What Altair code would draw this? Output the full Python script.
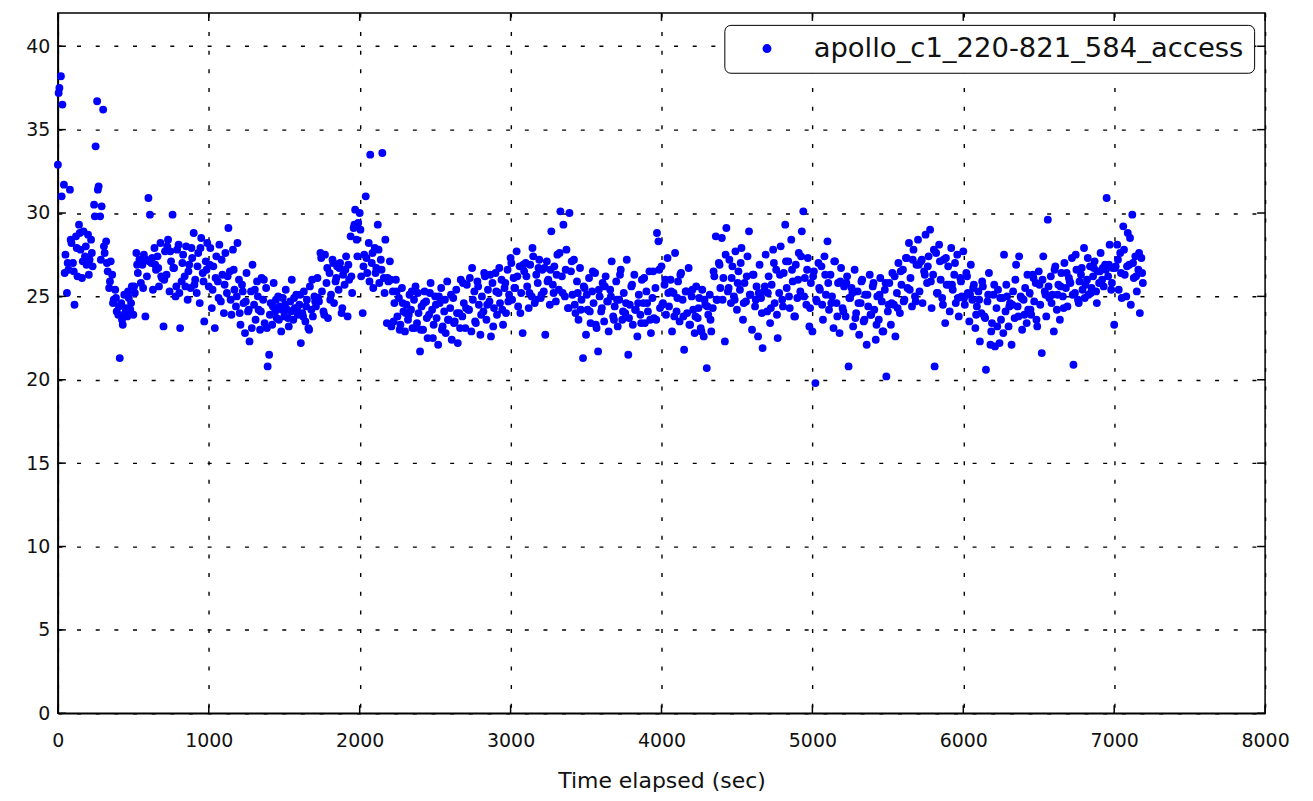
import altair as alt
import pandas as pd

series_name = "apollo_c1_220-821_584_access"
x_ticks = [0, 1000, 2000, 3000, 4000, 5000, 6000, 7000, 8000]
y_ticks = [0, 5, 10, 15, 20, 25, 30, 35, 40]
sample_interval_sec = 10
extra_offset_sec = 5
extra_interval_sec = 20

values_0000 = [
    32.9, 37.5, 38.2, 36.5, 31.7, 27.5, 25.2, 26.6, 31.4, 28.2,
    27.0, 24.5, 28.6, 26.2, 29.3, 27.8, 26.1, 28.9, 27.4, 26.9,
    28.7, 27.2, 28.4, 26.8, 30.5, 34.0, 36.7, 31.6, 29.8, 30.4,
    36.2, 27.6, 28.3, 26.5, 25.5, 27.1, 26.3, 24.8, 25.4, 24.1,
    23.9, 21.3, 24.6, 23.3, 25.1, 24.3, 23.8, 24.9, 24.2, 25.6,
    23.9, 25.2, 27.6, 26.4, 27.2, 25.8, 26.9, 27.5, 23.8, 26.2,
    30.9, 29.9, 27.0, 25.4, 27.9, 26.6, 27.4, 25.6, 28.2, 26.1,
    23.2, 27.7, 26.3, 28.4, 25.3, 27.1, 29.9, 26.7, 25.0, 27.8,
    28.1, 23.1, 25.9, 27.5, 26.2, 28.0, 24.8, 26.9, 25.5, 27.3,
    28.8, 26.0, 25.2, 27.6, 24.6, 28.5, 26.4, 23.5, 27.1, 28.2,
]
values_1000 = [
    25.6, 27.9, 24.3, 26.8, 23.1, 27.4, 25.9, 28.1, 24.7, 26.3,
    24.0, 27.6, 25.2, 29.1, 26.5, 23.9, 27.8, 25.4, 24.4, 28.2,
    26.0, 23.3, 25.7, 24.6, 22.8, 26.4, 24.1, 22.3, 25.3, 26.9,
    24.5, 23.6, 25.9, 24.2, 23.0, 26.1, 24.8, 23.4, 25.5, 20.8,
    21.5, 24.6, 23.3, 25.8, 24.1, 23.7, 25.0, 24.4, 22.9, 24.9,
    23.8, 25.4, 24.2, 23.2, 24.7, 26.0, 23.6, 24.3, 25.1, 23.9,
    24.5, 22.2, 24.0, 25.3, 23.5, 24.8, 23.1, 25.6, 24.2, 23.8,
    25.0, 24.4, 26.1, 24.7, 27.6, 25.3, 24.1, 27.5, 25.8, 23.7,
    26.4, 25.1, 27.2, 24.6, 25.9, 26.8, 25.4, 27.0, 24.0, 26.3,
    25.7, 27.4, 23.8, 26.0, 28.6, 25.2, 29.1, 30.2, 28.4, 29.4,
]
values_2000 = [
    30.0, 26.2, 24.0, 27.5, 31.0, 26.4, 28.2, 33.5, 27.0, 25.5,
    27.9, 26.7, 29.3, 25.8, 27.2, 33.6, 26.1, 28.4, 23.4, 25.9,
    27.1, 23.2, 25.3, 24.6, 26.0, 23.8, 24.9, 23.3, 25.5, 24.1,
    22.9, 24.5, 23.6, 25.1, 24.2, 23.1, 24.8, 25.6, 23.4, 24.0,
    21.7, 24.4, 23.0, 25.3, 24.7, 22.5, 23.9, 25.8, 24.2, 23.3,
    25.0, 23.7, 22.1, 24.6, 25.5, 23.2, 24.1, 22.8, 25.9, 23.6,
    24.3, 22.4, 24.9, 23.5, 25.4, 22.2, 24.0, 26.0, 23.8, 24.6,
    23.1, 25.7, 24.2, 26.1, 22.9, 24.8, 25.3, 23.4, 25.9, 24.5,
    22.7, 25.0, 24.1, 26.2, 23.6, 25.4, 24.7, 22.6, 25.8, 24.3,
    26.4, 23.9, 25.2, 24.6, 26.0, 23.3, 25.5, 24.0, 26.6, 25.1,
]
values_3000 = [
    27.3, 24.8, 26.1, 25.5, 27.7, 24.4, 26.8, 25.2, 22.8, 26.5,
    27.0, 25.6, 24.3, 26.9, 25.0, 27.4, 24.6, 26.3, 25.8, 27.2,
    24.9, 26.6, 25.3, 22.7, 27.1, 26.0, 24.5, 28.9, 25.7, 26.8,
    24.7, 27.5, 25.4, 30.1, 26.2, 29.3, 25.0, 27.8, 24.3, 30.0,
    26.5, 25.1, 27.2, 24.0, 25.9, 23.6, 26.7, 24.8, 21.3, 25.5,
    22.7, 24.2, 26.1, 23.4, 25.3, 24.6, 26.4, 23.1, 21.7, 25.0,
    24.1, 25.8, 23.5, 26.2, 24.7, 22.9, 25.4, 27.1, 23.8, 24.4,
    25.9, 23.2, 24.8, 26.6, 23.6, 25.2, 24.0, 27.2, 21.5, 24.5,
    25.6, 23.3, 26.3, 24.2, 22.6, 25.1, 23.9, 26.0, 24.6, 23.4,
    25.3, 24.1, 26.5, 22.8, 24.9, 23.7, 25.5, 28.8, 28.3, 24.3,
]
values_4000 = [
    26.8, 24.6, 25.7, 23.9, 27.3, 24.4, 26.0, 22.9, 25.2, 27.6,
    24.1, 25.9, 23.5, 26.4, 24.8, 21.8, 25.3, 24.0, 26.7, 23.3,
    25.0, 24.2, 22.8, 25.6, 23.7, 24.9, 23.1, 25.4, 22.6, 24.5,
    20.7, 23.9, 25.1, 22.9, 24.3, 26.2, 28.6, 24.8, 27.0, 25.5,
    28.5, 26.1, 22.3, 29.1, 25.3, 27.2, 24.6, 26.8, 25.0, 27.7,
    24.2, 26.5, 25.4, 27.9, 23.6, 25.8, 24.7, 27.4, 28.9, 25.1,
    23.0, 26.3, 24.4, 25.6, 22.6, 26.9, 24.9, 21.9, 25.3, 27.5,
    24.1, 26.2, 23.4, 25.7, 27.8, 24.6, 26.6, 22.5, 25.2, 28.0,
    24.8, 26.4, 29.3, 25.5, 27.1, 24.3, 28.4, 25.9, 23.8, 26.9,
    24.9, 27.6, 25.3, 28.9, 30.1, 26.1, 24.5, 27.3, 23.2, 25.8,
]
values_5000 = [
    22.9, 26.5, 19.8, 24.7, 27.0, 25.4, 26.8, 23.6, 27.4, 25.1,
    28.3, 24.2, 26.3, 25.0, 23.1, 27.1, 24.6, 25.8, 22.8, 26.7,
    24.3, 25.6, 23.8, 26.2, 20.8, 24.9, 25.5, 23.2, 26.6, 24.0,
    25.3, 22.7, 24.6, 26.0, 23.5, 25.1, 22.1, 24.4, 26.3, 23.9,
    25.6, 24.2, 22.4, 25.0, 23.6, 26.1, 24.7, 22.9, 25.4, 20.2,
    24.1, 25.8, 23.3, 26.4, 24.5, 22.6, 25.2, 27.0, 24.0, 25.7,
    26.6, 24.8, 27.3, 25.5, 28.2, 26.1, 24.4, 27.8, 25.0, 26.9,
    28.4, 25.3, 27.1, 24.6, 26.5, 28.7, 25.8, 27.4, 29.0, 24.3,
    26.3, 20.8, 27.6, 25.2, 28.1, 26.0, 24.9, 27.2, 23.4, 25.7,
    26.8, 24.1, 27.9, 25.4, 26.3, 24.6, 27.5, 23.8, 26.1, 25.0,
]
values_6000 = [
    27.7, 24.5, 26.4, 25.2, 23.5, 26.9, 24.8, 25.7, 23.1, 24.4,
    25.3, 22.3, 24.0, 25.6, 23.8, 20.6, 24.7, 26.4, 22.1, 23.4,
    25.1, 22.0, 24.3, 25.4, 22.2, 23.6, 24.9, 27.5, 24.1, 25.0,
    23.2, 24.6, 22.1, 25.3, 23.7, 26.9, 24.4, 27.4, 25.0, 23.0,
    24.8, 25.5, 23.4, 24.2, 25.2, 23.9, 26.3, 24.7, 25.8, 23.2,
    26.5, 24.5, 21.6, 27.4, 25.3, 23.8, 29.6, 24.9, 26.2, 25.1,
    22.9, 26.8, 24.2, 25.7, 23.6, 26.4, 25.0, 27.0, 25.5, 24.4,
    26.1, 25.8, 27.3, 20.9, 25.2, 26.6, 24.8, 25.9, 26.3, 25.4,
    27.9, 25.7, 26.0, 25.1, 26.8, 25.5, 26.2, 27.1, 25.3, 26.5,
    25.8, 27.6, 26.0, 25.6, 26.9, 30.9, 26.2, 28.1, 25.4, 26.7,
]
values_7000 = [
    23.3, 26.8, 28.1, 25.4, 27.6, 24.9, 29.2, 26.3, 25.0, 28.8,
    26.9, 24.5, 29.9, 26.1, 27.4, 25.3, 26.6, 24.0, 27.3, 25.8,
]

# second, interleaved set of samples (t = 5, 25, 45, ...)
extra_0000 = [
    37.2, 31.0, 26.4, 27.0, 28.4, 26.5, 27.9, 28.8, 27.1, 28.0,
    26.3, 27.6, 29.8, 31.4, 27.2, 28.0, 27.0, 25.9, 24.6, 24.9,
    24.4, 23.6, 24.0, 25.3, 24.6, 25.6, 26.9, 27.0, 25.5, 27.2,
    27.1, 27.3, 26.9, 26.7, 26.2, 26.0, 28.0, 27.7, 26.7, 25.6,
    25.2, 27.0, 25.6, 26.5, 27.9, 25.7, 26.8, 27.9, 25.9, 26.6,
]
extra_1000 = [
    26.9, 25.4, 26.1, 24.9, 27.2, 25.7, 26.2, 24.8, 26.6, 25.0,
    24.0, 25.3, 24.7, 24.2, 23.1, 25.4, 25.0, 24.1, 26.0, 23.1,
    23.9, 24.4, 24.8, 23.6, 24.2, 24.5, 23.7, 24.1, 24.9, 24.3,
    25.1, 23.8, 24.4, 23.0, 26.0, 24.7, 24.9, 27.3, 23.9, 26.7,
    24.8, 27.0, 26.1, 26.7, 24.3, 26.6, 26.9, 26.2, 29.3, 27.4,
]
extra_2000 = [
    29.0, 26.8, 27.3, 25.9, 27.6, 26.4, 27.8, 26.6, 25.2, 26.1,
    26.0, 23.5, 25.3, 23.0, 24.6, 24.0, 23.9, 25.3, 23.1, 25.2,
    23.0, 24.6, 23.7, 25.2, 22.5, 24.5, 25.0, 23.0, 24.8, 23.6,
    25.1, 23.4, 24.0, 23.1, 25.8, 24.3, 24.2, 26.7, 23.5, 25.6,
    23.9, 26.4, 24.5, 26.3, 23.2, 25.3, 26.7, 24.2, 25.8, 24.7,
]
extra_3000 = [
    27.0, 25.5, 26.2, 24.0, 26.9, 26.2, 25.2, 27.9, 24.8, 26.7,
    25.1, 26.7, 25.9, 26.6, 25.2, 26.3, 27.6, 25.2, 26.6, 24.3,
    27.1, 24.5, 25.2, 24.2, 25.6, 25.1, 24.1, 26.5, 23.3, 25.4,
    24.3, 25.6, 24.7, 25.0, 23.6, 24.8, 26.3, 24.1, 24.6, 23.7,
    25.7, 24.2, 24.6, 23.4, 26.1, 24.6, 23.6, 26.5, 23.6, 26.6,
]
extra_4000 = [
    24.5, 26.0, 25.2, 25.3, 23.8, 24.9, 26.3, 23.8, 25.3, 23.3,
    25.4, 23.8, 24.3, 22.9, 24.8, 24.4, 23.6, 26.5, 24.8, 26.9,
    24.8, 27.5, 25.5, 26.1, 24.8, 25.8, 27.0, 24.6, 26.2, 25.1,
    26.3, 24.8, 25.2, 24.0, 25.6, 25.2, 24.3, 27.0, 23.9, 26.3,
    24.4, 27.1, 25.0, 26.6, 23.8, 26.0, 27.4, 25.0, 26.6, 24.3,
]
extra_5000 = [
    26.2, 24.8, 25.5, 24.5, 26.3, 25.8, 24.6, 27.1, 23.8, 25.9,
    24.1, 25.8, 24.9, 25.2, 23.7, 24.6, 25.9, 23.6, 25.1, 23.9,
    25.8, 23.3, 25.1, 22.9, 25.8, 24.5, 24.6, 26.2, 24.3, 26.5,
    24.7, 27.3, 25.4, 27.2, 24.7, 26.9, 27.2, 26.3, 26.8, 25.9,
    27.8, 25.2, 27.1, 24.5, 27.3, 25.7, 25.7, 27.0, 24.9, 25.9,
]
extra_6000 = [
    24.9, 26.2, 25.1, 25.5, 23.9, 24.8, 25.9, 23.7, 25.1, 22.9,
    25.7, 23.2, 24.9, 22.8, 25.7, 24.4, 24.5, 26.0, 23.8, 24.9,
    23.9, 26.3, 24.2, 26.1, 23.6, 25.7, 26.0, 25.1, 25.6, 24.6,
    26.6, 25.1, 25.6, 24.3, 26.4, 25.9, 25.1, 27.5, 24.6, 26.7,
    24.9, 27.3, 25.2, 26.7, 24.6, 26.5, 26.7, 26.6, 26.9, 25.8,
]
extra_7000 = [
    26.7, 27.2, 26.4, 27.8, 26.8, 28.5, 27.0, 26.2, 27.6, 26.4,
]

values = (values_0000 + values_1000 + values_2000 + values_3000
          + values_4000 + values_5000 + values_6000 + values_7000)
times = [i * sample_interval_sec for i in range(len(values))]
extra = (extra_0000 + extra_1000 + extra_2000 + extra_3000
         + extra_4000 + extra_5000 + extra_6000 + extra_7000)
extra_times = [extra_offset_sec + i * extra_interval_sec for i in range(len(extra))]

df = pd.DataFrame({"t": times + extra_times, "v": values + extra})
df["series"] = series_name
xt = pd.DataFrame({"t": x_ticks})
yt = pd.DataFrame({"v": y_ticks})

W, H = 1210, 702
TL = 8
FONT = "DejaVu Sans"

xscale = alt.Scale(domain=[0, 8000], nice=False, zero=False)
yscale = alt.Scale(domain=[0, 42], nice=False, zero=False)

x_axis = alt.Axis(values=x_ticks, title="Time elapsed (sec)", ticks=False, tickSize=0,
                  labelPadding=18, titlePadding=20, labelFlush=False, format="d")
y_axis = alt.Axis(values=y_ticks, title=None, ticks=False, tickSize=0,
                  labelPadding=8, format="d")

points = alt.Chart(df).mark_circle(size=62, opacity=1).encode(
    x=alt.X("t:Q", scale=xscale, axis=x_axis),
    y=alt.Y("v:Q", scale=yscale, axis=y_axis),
    color=alt.Color("series:N",
                    scale=alt.Scale(domain=[series_name], range=["#0000ff"]),
                    legend=alt.Legend(orient="none", legendX=668, legendY=12, title=None,
                                      labelFontSize=27.5, labelFont=FONT, labelColor="#111",
                                      symbolType="circle", symbolSize=80,
                                      symbolStrokeWidth=0, strokeColor="black",
                                      fillColor="white", cornerRadius=6, padding=10,
                                      symbolOffset=19, labelOffset=33, labelLimit=800)),
)

tick_style = dict(color="black", strokeWidth=1.5)
x_bottom = alt.Chart(xt).mark_rule(**tick_style).encode(
    x=alt.X("t:Q", scale=xscale, axis=x_axis), y=alt.value(H), y2=alt.value(H - TL))
x_top = alt.Chart(xt).mark_rule(**tick_style).encode(
    x=alt.X("t:Q", scale=xscale, axis=x_axis), y=alt.value(0), y2=alt.value(TL))
y_left = alt.Chart(yt).mark_rule(**tick_style).encode(
    y=alt.Y("v:Q", scale=yscale, axis=y_axis), x=alt.value(0), x2=alt.value(TL))
y_right = alt.Chart(yt).mark_rule(**tick_style).encode(
    y=alt.Y("v:Q", scale=yscale, axis=y_axis), x=alt.value(W - TL), x2=alt.value(W))

chart = alt.layer(points, x_bottom, x_top, y_left, y_right).properties(
    width=W, height=H,
    autosize="none",
    padding={"left": 50, "top": 4, "right": 40, "bottom": 80},
).configure_view(
    stroke="black", strokeWidth=1.5
).configure_axis(
    grid=True, gridColor="black", gridDash=[4, 14.7], gridWidth=1.4, gridOpacity=1,
    domainColor="black", domainWidth=1.5,
    labelFont=FONT, labelFontSize=19, labelColor="#111",
    titleFont=FONT, titleFontSize=22, titleColor="#111", titleFontWeight="normal",
)

chart.save("out.html", embed_options={"renderer": "svg", "actions": False})
